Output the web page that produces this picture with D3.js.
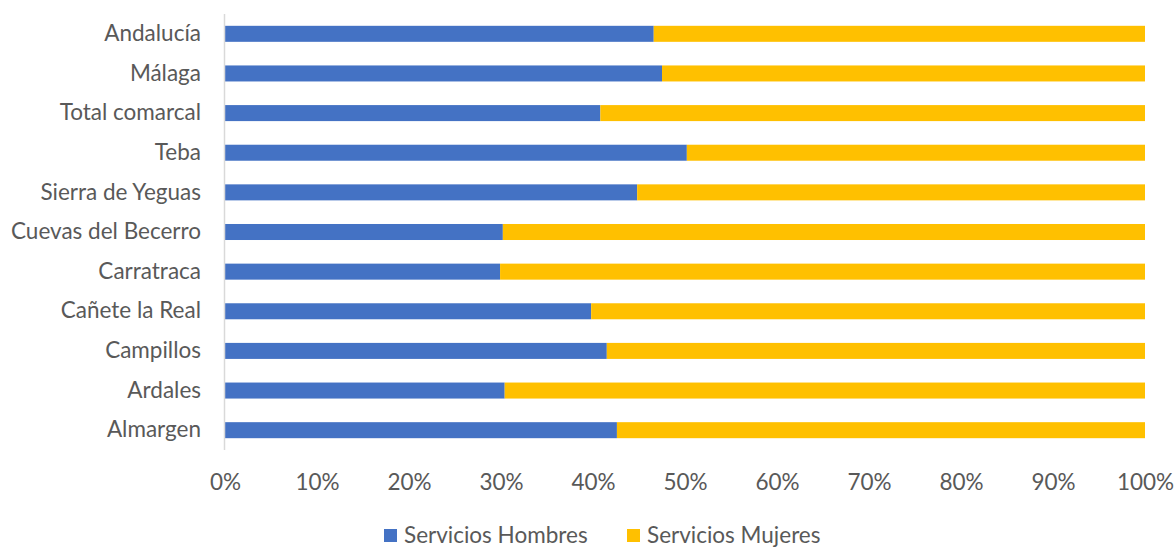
<!DOCTYPE html>
<html><head><meta charset="utf-8">
<script src="https://cdn.jsdelivr.net/npm/d3@7"></script>
<style>
body{margin:0;background:#fff;}
text{font-family:Lato,"Noto Sans",sans-serif;fill:#595959;}
</style></head>
<body><svg id="c" width="1176" height="547"></svg>
<script>
const categories = ["Andalucía","Málaga","Total comarcal","Teba","Sierra de Yeguas","Cuevas del Becerro","Carratraca","Cañete la Real","Campillos","Ardales","Almargen"];
const hombres = [46.6,47.5,40.8,50.2,44.8,30.2,29.9,39.8,41.5,30.4,42.6];
const mujeres = hombres.map(v => 100 - v);
const seriesNames = ["Servicios Hombres","Servicios Mujeres"];
const colors = ["#4472C4","#FFC000"];
const tickValues = [0,10,20,30,40,50,60,70,80,90,100];

const FS = "22.5px";
const svg = d3.select("#c");
const x = d3.scaleLinear().domain([0,100]).range([225,1145]);
const y = d3.scaleBand().domain(categories).range([14,450]).paddingInner(0.596).paddingOuter(0.298);

const data = categories.map((c,i)=>({cat:c,h:hombres[i],m:mujeres[i]}));
const stack = d3.stack().keys(["h","m"])(data);

svg.append("g").selectAll("g").data(stack).join("g")
  .attr("fill",(d,i)=>colors[i])
  .selectAll("rect").data(d=>d).join("rect")
  .attr("x",d=>x(d[0])).attr("width",d=>x(d[1])-x(d[0]))
  .attr("y",d=>y(d.data.cat)).attr("height",y.bandwidth());

// vertical axis line
svg.append("line").attr("x1",224.5).attr("x2",224.5).attr("y1",14).attr("y2",450)
  .attr("stroke","#d9d9d9").attr("stroke-width",1.5);

// category labels
const yAxis = svg.append("g").attr("transform","translate(224,0)").call(d3.axisLeft(y).tickSize(0).tickPadding(23));
yAxis.select(".domain").remove();
yAxis.selectAll("text").style("font-size",FS).style("font-family","Lato,'Noto Sans',sans-serif").attr("fill","#595959");

// x axis
const xAxis = svg.append("g").attr("transform","translate(0,468)")
  .call(d3.axisBottom(x).tickValues(tickValues).tickFormat(d=>d+"%").tickSize(0).tickPadding(6));
xAxis.select(".domain").remove();
xAxis.selectAll("text").style("font-size",FS).style("font-family","Lato,'Noto Sans',sans-serif").attr("fill","#595959");

// legend
const legX = [384,627];
const leg = svg.append("g");
seriesNames.forEach((n,i)=>{
  leg.append("rect").attr("x",legX[i]).attr("y",529).attr("width",13).attr("height",13).attr("fill",colors[i]);
  leg.append("text").attr("x",legX[i]+20).attr("y",543).style("font-size",FS).text(n);
});
</script></body></html>
